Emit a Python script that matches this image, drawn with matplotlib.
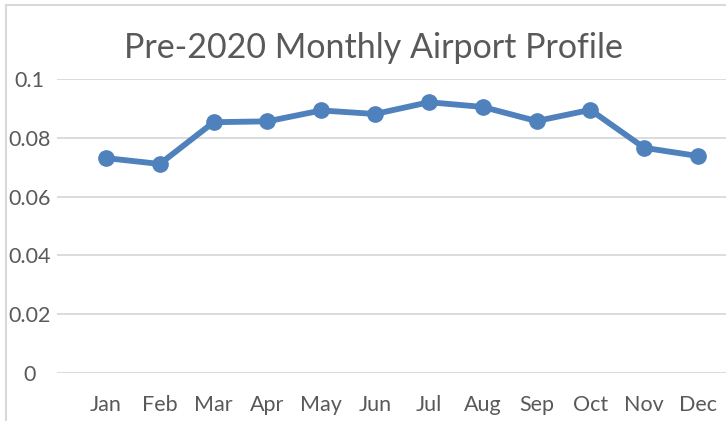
import matplotlib
matplotlib.use("Agg")
import matplotlib.pyplot as plt
from matplotlib.lines import Line2D

months = ["Jan", "Feb", "Mar", "Apr", "May", "Jun", "Jul", "Aug", "Sep", "Oct", "Nov", "Dec"]
values = [0.0731, 0.0711, 0.0853, 0.0856, 0.0893, 0.0881, 0.0921, 0.0905, 0.0857, 0.0895, 0.0766, 0.0738]
yticks = [0, 0.02, 0.04, 0.06, 0.08, 0.1]
ytick_labels = ["0", "0.02", "0.04", "0.06", "0.08", "0.1"]
title = "Pre-2020 Monthly Airport Profile"

plt.rcParams['font.family'] = ['Lato', 'DejaVu Sans']
text_color = "#595959"
grid_color = "#D9D9D9"
line_color = "#4F81BD"

fig = plt.figure(figsize=(7.26, 4.21), dpi=100)
ax = fig.add_axes([57/726, 1-373/421, 1-57/726, (373-79)/421])

x = list(range(len(months)))
ax.plot(x, values, color=line_color, lw=4.2, marker='o', markersize=11, solid_capstyle='round', zorder=3, clip_on=False)

ax.set_ylim(0, 0.1)
ax.set_xlim(-0.91, 11.52)
ax.set_yticks(yticks)
ax.set_yticklabels(ytick_labels)
ax.set_xticks(x)
ax.set_xticklabels(months)
ax.grid(axis='y', color=grid_color, lw=1.3)
ax.set_axisbelow(True)
for s in ax.spines.values():
    s.set_visible(False)
ax.tick_params(axis='both', length=0, colors=text_color, labelsize=15.5)
ax.tick_params(axis='x', pad=16)
for lab in ax.get_yticklabels():
    lab.set_horizontalalignment('center')
ax.tick_params(axis='y', pad=20)

fig.text(373/726, 1-48/421, title, ha='center', va='center', fontsize=24.5, color=text_color)

# chart area border (partially cropped)
fig.add_artist(Line2D([6/726, 6/726], [0, 1-5/421], transform=fig.transFigure, color=grid_color, lw=1.5))
fig.add_artist(Line2D([6/726, 1], [1-5/421, 1-5/421], transform=fig.transFigure, color=grid_color, lw=1.5))

fig.savefig("out.png", dpi=100)
